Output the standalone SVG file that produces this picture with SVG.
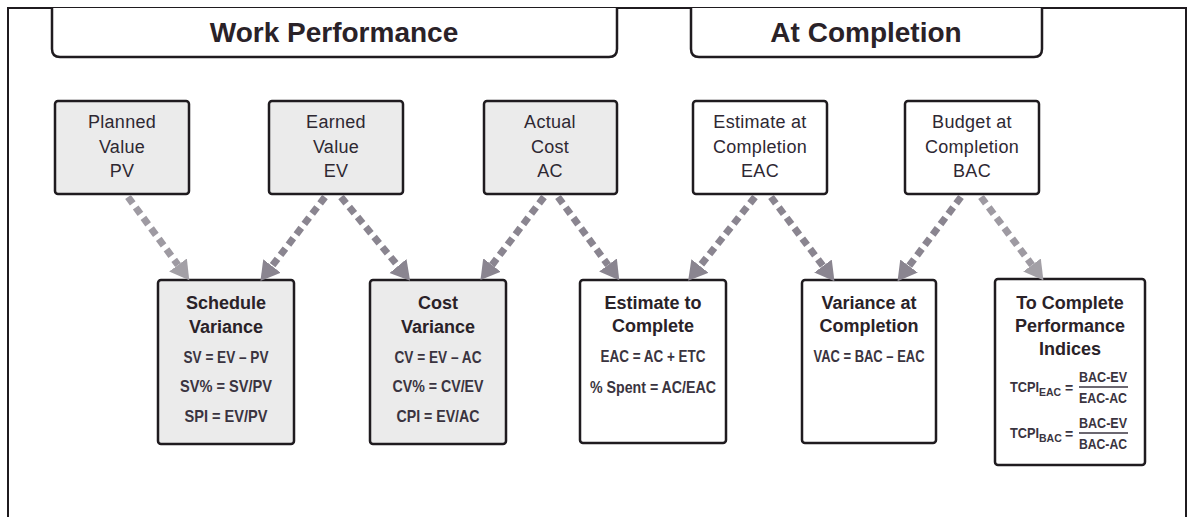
<svg xmlns="http://www.w3.org/2000/svg" width="1196" height="517" viewBox="0 0 1196 517">
  <style>
    .frame { fill: none; stroke: #1f1b1f; stroke-width: 2; }
    .header { fill: #ffffff; stroke: #1f1b1f; stroke-width: 2.5; }
    .header-text { font-family: "Liberation Sans", Arial, sans-serif; font-weight: bold; font-size: 28px; fill: #2a2228; text-anchor: middle; }
    .box { stroke: #1f1b1f; stroke-width: 2.5; }
    .shaded { fill: #ebebeb; }
    .plain { fill: #ffffff; }
    .label { font-family: "Liberation Sans", Arial, sans-serif; font-size: 18px; fill: #2e2832; text-anchor: middle; letter-spacing: 0.3px; }
    .title { font-family: "Liberation Sans", Arial, sans-serif; font-weight: bold; font-size: 18px; fill: #2a2228; text-anchor: middle; }
    .formula { font-family: "Liberation Sans", Arial, sans-serif; font-weight: bold; font-size: 16.5px; fill: #3a3440; text-anchor: middle; }
    .tcpi { font-family: "Liberation Sans", Arial, sans-serif; font-weight: bold; font-size: 14px; fill: #3a3440; }
    .frac { font-family: "Liberation Sans", Arial, sans-serif; font-weight: bold; font-size: 14px; fill: #3a3440; text-anchor: middle; }
    .sub { font-size: 10.5px; }
    .fracline { stroke: #3a3440; stroke-width: 1.5; }
    .flow { fill: none; stroke: #8a8590; stroke-width: 7; stroke-dasharray: 8 5; }
    .flow.light { stroke: #9e9aa2; }
  </style>
  <defs>
    <marker id="head" markerUnits="userSpaceOnUse" markerWidth="22" markerHeight="24" refX="0" refY="11" orient="auto" viewBox="0 0 22 22">
      <path d="M0,0 L19,11 L0,22 z" fill="#8a8590"/>
    </marker>
    <marker id="head-light" markerUnits="userSpaceOnUse" markerWidth="22" markerHeight="24" refX="0" refY="11" orient="auto" viewBox="0 0 22 22">
      <path d="M0,0 L19,11 L0,22 z" fill="#a3a0a6"/>
    </marker>
  </defs>

  <rect width="1196" height="517" fill="#ffffff"/>

  <!-- outer frame, open at the bottom -->
  <path class="frame" d="M8,517 V8 H1186 V517"/>

  <!-- section headers -->
  <g id="header-work-performance">
    <path class="header" d="M52,8 V49 Q52,57 60,57 H609 Q617,57 617,49 V8"/>
    <text class="header-text" x="334" y="42">Work Performance</text>
  </g>
  <g id="header-at-completion">
    <path class="header" d="M691,8 V49 Q691,57 699,57 H1034 Q1042,57 1042,49 V8"/>
    <text class="header-text" x="866" y="42">At Completion</text>
  </g>

  <!-- input measures -->
  <g id="node-pv">
    <rect class="box shaded" x="55" y="101" width="134" height="93" rx="3"/>
    <text class="label" x="122" y="128">Planned</text>
    <text class="label" x="122" y="153">Value</text>
    <text class="label" x="122" y="177">PV</text>
  </g>
  <g id="node-ev">
    <rect class="box shaded" x="269" y="101" width="134" height="93" rx="3"/>
    <text class="label" x="336" y="128">Earned</text>
    <text class="label" x="336" y="153">Value</text>
    <text class="label" x="336" y="177">EV</text>
  </g>
  <g id="node-ac">
    <rect class="box shaded" x="484" y="101" width="133" height="93" rx="3"/>
    <text class="label" x="550" y="128">Actual</text>
    <text class="label" x="550" y="153">Cost</text>
    <text class="label" x="550" y="177">AC</text>
  </g>
  <g id="node-eac">
    <rect class="box plain" x="693" y="101" width="134" height="93" rx="3"/>
    <text class="label" x="760" y="128">Estimate at</text>
    <text class="label" x="760" y="153">Completion</text>
    <text class="label" x="760" y="177">EAC</text>
  </g>
  <g id="node-bac">
    <rect class="box plain" x="905" y="101" width="134" height="93" rx="3"/>
    <text class="label" x="972" y="128">Budget at</text>
    <text class="label" x="972" y="153">Completion</text>
    <text class="label" x="972" y="177">BAC</text>
  </g>

  <!-- derived measures -->
  <g id="node-sv">
    <rect class="box shaded" x="158" y="280" width="136" height="164" rx="3"/>
    <text class="title" x="226" y="309">Schedule</text>
    <text class="title" x="226" y="333">Variance</text>
    <text class="formula" x="226" y="363" textLength="85" lengthAdjust="spacingAndGlyphs">SV = EV – PV</text>
    <text class="formula" x="226" y="392" textLength="92" lengthAdjust="spacingAndGlyphs">SV% = SV/PV</text>
    <text class="formula" x="226" y="422" textLength="83" lengthAdjust="spacingAndGlyphs">SPI = EV/PV</text>
  </g>
  <g id="node-cv">
    <rect class="box shaded" x="370" y="280" width="136" height="164" rx="3"/>
    <text class="title" x="438" y="309">Cost</text>
    <text class="title" x="438" y="333">Variance</text>
    <text class="formula" x="438" y="363" textLength="87" lengthAdjust="spacingAndGlyphs">CV = EV – AC</text>
    <text class="formula" x="438" y="392" textLength="91" lengthAdjust="spacingAndGlyphs">CV% = CV/EV</text>
    <text class="formula" x="438" y="422" textLength="83" lengthAdjust="spacingAndGlyphs">CPI = EV/AC</text>
  </g>
  <g id="node-etc">
    <rect class="box plain" x="580" y="280" width="146" height="163" rx="3"/>
    <text class="title" x="653" y="309">Estimate to</text>
    <text class="title" x="653" y="332">Complete</text>
    <text class="formula" x="653" y="362" textLength="105" lengthAdjust="spacingAndGlyphs">EAC = AC + ETC</text>
    <text class="formula" x="653" y="393" textLength="126" lengthAdjust="spacingAndGlyphs">% Spent = AC/EAC</text>
  </g>
  <g id="node-vac">
    <rect class="box plain" x="802" y="280" width="134" height="163" rx="3"/>
    <text class="title" x="869" y="309">Variance at</text>
    <text class="title" x="869" y="332">Completion</text>
    <text class="formula" x="869" y="362" textLength="111" lengthAdjust="spacingAndGlyphs">VAC = BAC – EAC</text>
  </g>
  <g id="node-tcpi">
    <rect class="box plain" x="995" y="279" width="150" height="186" rx="3"/>
    <text class="title" x="1070" y="309">To Complete</text>
    <text class="title" x="1070" y="332">Performance</text>
    <text class="title" x="1070" y="355">Indices</text>
    <text class="tcpi" x="1010" y="392" textLength="29" lengthAdjust="spacingAndGlyphs">TCPI</text>
    <text class="tcpi sub" x="1039" y="396">EAC</text>
    <text class="tcpi" x="1065" y="393">=</text>
    <text class="frac" x="1103" y="382" textLength="48" lengthAdjust="spacingAndGlyphs">BAC-EV</text>
    <line class="fracline" x1="1079" y1="387" x2="1128" y2="387"/>
    <text class="frac" x="1103" y="403" textLength="48" lengthAdjust="spacingAndGlyphs">EAC-AC</text>
    <text class="tcpi" x="1010" y="438" textLength="29" lengthAdjust="spacingAndGlyphs">TCPI</text>
    <text class="tcpi sub" x="1039" y="442">BAC</text>
    <text class="tcpi" x="1065" y="439">=</text>
    <text class="frac" x="1103" y="428" textLength="48" lengthAdjust="spacingAndGlyphs">BAC-EV</text>
    <line class="fracline" x1="1079" y1="433" x2="1128" y2="433"/>
    <text class="frac" x="1103" y="449" textLength="48" lengthAdjust="spacingAndGlyphs">BAC-AC</text>
  </g>

  <!-- dashed flow connectors -->
  <g id="connectors">
    <line class="flow light" x1="128" y1="197" x2="178" y2="265" marker-end="url(#head-light)"/>
    <line class="flow" x1="325" y1="197" x2="272" y2="266" marker-end="url(#head)"/>
    <line class="flow" x1="341" y1="197" x2="398" y2="266" marker-end="url(#head)"/>
    <line class="flow" x1="544" y1="197" x2="492" y2="265" marker-end="url(#head)"/>
    <line class="flow" x1="558" y1="197" x2="608" y2="265" marker-end="url(#head)"/>
    <line class="flow" x1="755" y1="197" x2="700" y2="266" marker-end="url(#head)"/>
    <line class="flow" x1="771" y1="197" x2="823" y2="266" marker-end="url(#head)"/>
    <line class="flow" x1="961" y1="197" x2="909" y2="266" marker-end="url(#head)"/>
    <line class="flow light" x1="981" y1="197" x2="1032" y2="265" marker-end="url(#head-light)"/>
  </g>
</svg>
